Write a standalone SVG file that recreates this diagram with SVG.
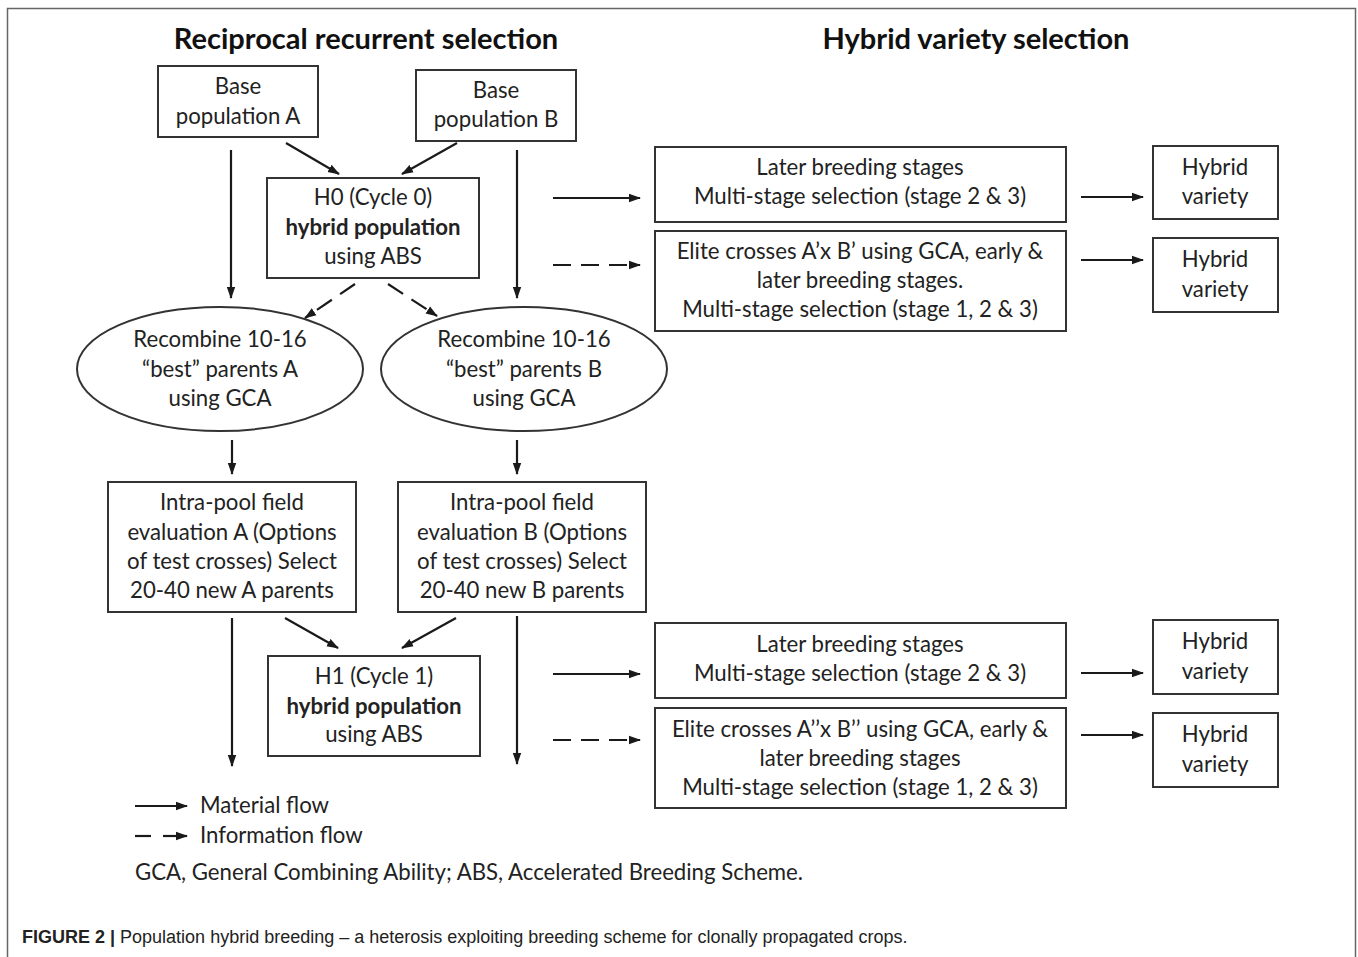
<svg xmlns="http://www.w3.org/2000/svg" width="1358" height="957" viewBox="0 0 1358 957">
<defs>
<marker id="ah" markerWidth="12" markerHeight="10" refX="11" refY="5" orient="auto" markerUnits="userSpaceOnUse">
<path d="M0,0.8 L12,5 L0,9.2 Z" fill="#1a1a1a"/>
</marker>
</defs>
<style>
.frame{fill:none;stroke:#666;stroke-width:1.5}
.box{fill:#fff;stroke:#333;stroke-width:2}
.t{font-family:Lato,"Open Sans",sans-serif;font-size:22.2px;fill:#222;text-anchor:middle}
.b{font-weight:bold}
.h{font-family:Lato,"Open Sans",sans-serif;font-size:29px;font-weight:bold;fill:#111;text-anchor:middle}
.l{font-family:Lato,"Open Sans",sans-serif;font-size:22.2px;fill:#222}
.c{stroke:#1a1a1a;stroke-width:2.2;fill:none;marker-end:url(#ah)}
.d{stroke-dasharray:18,10}
.cap{font-family:"Liberation Sans",Arial,sans-serif;font-size:18px;fill:#222}
</style>
<rect class="frame" x="7.5" y="8.5" width="1348" height="960"/>
<text class="h" x="366" y="49">Reciprocal recurrent selection</text>
<text class="h" x="976" y="49">Hybrid variety selection</text>

<g id="baseA"><rect class="box" x="158" y="66" width="160" height="71"/>
<text class="t" x="238" y="94">Base</text><text class="t" x="238" y="124">population A</text></g>
<g id="baseB"><rect class="box" x="416" y="70" width="160" height="71"/>
<text class="t" x="496" y="98">Base</text><text class="t" x="496" y="127">population B</text></g>
<g id="h0"><rect class="box" x="267" y="178" width="212" height="100"/>
<text class="t" x="373" y="205">H0 (Cycle 0)</text><text class="t b" x="373" y="235">hybrid population</text><text class="t" x="373" y="264">using ABS</text></g>
<g id="recA"><ellipse class="box" cx="220" cy="369" rx="143" ry="62"/>
<text class="t" x="220" y="347">Recombine 10-16</text><text class="t" x="220" y="377">“best” parents A</text><text class="t" x="220" y="406">using GCA</text></g>
<g id="recB"><ellipse class="box" cx="524" cy="369" rx="143" ry="62"/>
<text class="t" x="524" y="347">Recombine 10-16</text><text class="t" x="524" y="377">“best” parents B</text><text class="t" x="524" y="406">using GCA</text></g>
<g id="intraA"><rect class="box" x="108" y="482" width="248" height="130"/>
<text class="t" x="232" y="510">Intra-pool field</text><text class="t" x="232" y="540">evaluation A (Options</text><text class="t" x="232" y="569">of test crosses) Select</text><text class="t" x="232" y="598">20-40 new A parents</text></g>
<g id="intraB"><rect class="box" x="398" y="482" width="248" height="130"/>
<text class="t" x="522" y="510">Intra-pool field</text><text class="t" x="522" y="540">evaluation B (Options</text><text class="t" x="522" y="569">of test crosses) Select</text><text class="t" x="522" y="598">20-40 new B parents</text></g>
<g id="h1"><rect class="box" x="268" y="656" width="212" height="100"/>
<text class="t" x="374" y="684">H1 (Cycle 1)</text><text class="t b" x="374" y="714">hybrid population</text><text class="t" x="374" y="742">using ABS</text></g>

<g id="later1"><rect class="box" x="655" y="147" width="411" height="75"/>
<text class="t" x="860" y="175">Later breeding stages</text><text class="t" x="860" y="204">Multi-stage selection (stage 2 &amp; 3)</text></g>
<g id="elite1"><rect class="box" x="655" y="231" width="411" height="100"/>
<text class="t" x="860" y="259">Elite crosses A’x B’ using GCA, early &amp;</text><text class="t" x="860" y="288">later breeding stages.</text><text class="t" x="860" y="317">Multi-stage selection (stage 1, 2 &amp; 3)</text></g>
<g id="hv1"><rect class="box" x="1153" y="146" width="125" height="73"/>
<text class="t" x="1215" y="175">Hybrid</text><text class="t" x="1215" y="204">variety</text></g>
<g id="hv2"><rect class="box" x="1153" y="238" width="125" height="74"/>
<text class="t" x="1215" y="267">Hybrid</text><text class="t" x="1215" y="297">variety</text></g>
<g id="later2"><rect class="box" x="655" y="623" width="411" height="75"/>
<text class="t" x="860" y="652">Later breeding stages</text><text class="t" x="860" y="681">Multi-stage selection (stage 2 &amp; 3)</text></g>
<g id="elite2"><rect class="box" x="655" y="708" width="411" height="100"/>
<text class="t" x="860" y="737">Elite crosses A’’x B’’ using GCA, early &amp;</text><text class="t" x="860" y="766">later breeding stages</text><text class="t" x="860" y="795">Multi-stage selection (stage 1, 2 &amp; 3)</text></g>
<g id="hv3"><rect class="box" x="1153" y="620" width="125" height="74"/>
<text class="t" x="1215" y="649">Hybrid</text><text class="t" x="1215" y="679">variety</text></g>
<g id="hv4"><rect class="box" x="1153" y="713" width="125" height="74"/>
<text class="t" x="1215" y="742">Hybrid</text><text class="t" x="1215" y="772">variety</text></g>

<g id="connectors">
<line class="c" x1="286" y1="143" x2="339" y2="174"/>
<line class="c" x1="457" y1="143" x2="402" y2="174"/>
<line class="c" x1="231" y1="150" x2="231" y2="298"/>
<line class="c" x1="517" y1="150" x2="517" y2="298"/>
<line class="c d" x1="355" y1="284" x2="305" y2="318"/>
<line class="c d" x1="388" y1="284" x2="437" y2="316"/>
<line class="c" x1="232" y1="440" x2="232" y2="474"/>
<line class="c" x1="517" y1="440" x2="517" y2="474"/>
<line class="c" x1="285" y1="618" x2="338" y2="648"/>
<line class="c" x1="456" y1="618" x2="402" y2="648"/>
<line class="c" x1="232" y1="618" x2="232" y2="766"/>
<line class="c" x1="517" y1="616" x2="517" y2="764"/>
<line class="c" x1="553" y1="198" x2="640" y2="198"/>
<line class="c d" x1="553" y1="265" x2="640" y2="265"/>
<line class="c" x1="1081" y1="197" x2="1143" y2="197"/>
<line class="c" x1="1081" y1="260" x2="1143" y2="260"/>
<line class="c" x1="553" y1="674" x2="640" y2="674"/>
<line class="c d" x1="553" y1="740" x2="640" y2="740"/>
<line class="c" x1="1081" y1="673" x2="1143" y2="673"/>
<line class="c" x1="1081" y1="735" x2="1143" y2="735"/>
</g>

<g id="legend">
<line class="c" x1="135" y1="806" x2="187" y2="806"/>
<text class="l" x="200" y="813">Material flow</text>
<line class="c" x1="135" y1="836" x2="151" y2="836" style="marker-end:none"/>
<line class="c" x1="163" y1="836" x2="187" y2="836"/>
<text class="l" x="200" y="843">Information flow</text>
<text class="l" x="135" y="880">GCA, General Combining Ability; ABS, Accelerated Breeding Scheme.</text>
</g>
<text class="cap" x="22" y="943"><tspan font-weight="bold">FIGURE 2 |</tspan> Population hybrid breeding – a heterosis exploiting breeding scheme for clonally propagated crops.</text>
</svg>
